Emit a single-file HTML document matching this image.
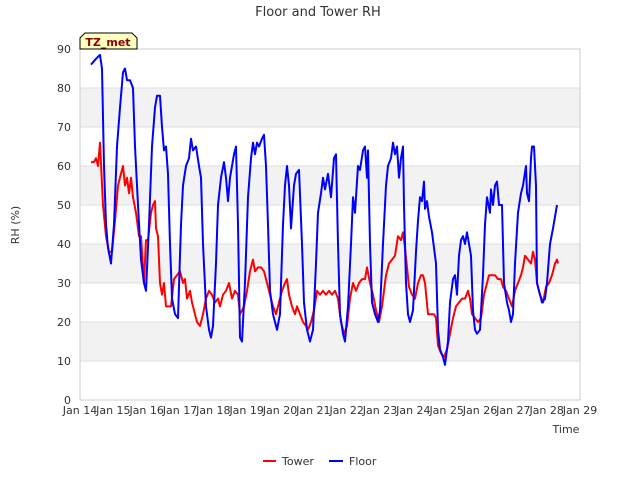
<!DOCTYPE html>
<html><head><meta charset="utf-8"><style>
body{margin:0;background:#fff;font-family:"Liberation Sans","DejaVu Sans",sans-serif}
svg text{font-family:"DejaVu Sans","Liberation Sans",sans-serif}
</style></head><body>
<svg id="c" width="640" height="480" viewBox="0 0 640 480">
<text x="318" y="16" font-size="13" fill="#333" text-anchor="middle">Floor and Tower RH</text>
<g id="bands"></g><g id="grid"></g>
<rect x="80" y="49" width="500" height="351" fill="none" stroke="#ccc"/>
<g id="yt"></g><g id="xt"></g><g id="lines"></g>
<text transform="translate(19,225) rotate(-90)" font-size="11" fill="#333" text-anchor="middle">RH (%)</text>
<text x="566" y="433" font-size="11" fill="#333" text-anchor="middle">Time</text>
<g>
<path d="M80,49 L80,38 L85,33 L132,33 L137,38 L137,49 Z" fill="#ffffc0" stroke="#000"/>
<text x="108" y="46" font-size="11" font-weight="bold" fill="#8b0000" text-anchor="middle">TZ_met</text></g>
<g><line x1="263" y1="461" x2="276" y2="461" stroke="#f00" stroke-width="2"/><text x="282" y="465" font-size="11" fill="#333">Tower</text></g>
<g><line x1="329" y1="461" x2="343" y2="461" stroke="#00f" stroke-width="2"/><text x="349" y="465" font-size="11" fill="#333">Floor</text></g>
</svg>
<script>
const xTickLabels=["Jan 14","Jan 15","Jan 16","Jan 17","Jan 18","Jan 19","Jan 20","Jan 21","Jan 22","Jan 23","Jan 24","Jan 25","Jan 26","Jan 27","Jan 28","Jan 29"];
const yTicks=[0,10,20,30,40,50,60,70,80,90];
const floorT=[.33,.48,.6,.66,.72,.78,.84,.93,1.02,1.11,1.2,1.29,1.35,1.41,1.5,1.59,1.65,1.74,1.83,1.92,1.98,2.07,2.16,2.25,2.31,2.4,2.46,2.52,2.58,2.64,2.7,2.76,2.85,2.94,3.03,3.09,3.18,3.27,3.33,3.39,3.48,3.57,3.63,3.69,3.78,3.87,3.93,3.99,4.08,4.14,4.23,4.32,4.38,4.44,4.5,4.56,4.62,4.68,4.74,4.8,4.86,4.95,5.04,5.13,5.19,5.25,5.31,5.37,5.46,5.52,5.58,5.64,5.7,5.79,5.85,5.91,6.0,6.09,6.15,6.21,6.27,6.33,6.42,6.48,6.57,6.66,6.72,6.81,6.9,6.99,7.08,7.14,7.23,7.29,7.35,7.44,7.53,7.62,7.68,7.74,7.8,7.89,7.95,8.04,8.13,8.19,8.25,8.34,8.4,8.49,8.55,8.61,8.64,8.7,8.76,8.85,8.94,9.0,9.09,9.18,9.24,9.33,9.39,9.45,9.51,9.57,9.63,9.69,9.72,9.78,9.84,9.9,9.99,10.08,10.14,10.2,10.26,10.32,10.35,10.41,10.47,10.56,10.62,10.68,10.74,10.8,10.89,10.95,11.04,11.1,11.19,11.25,11.31,11.37,11.43,11.49,11.55,11.61,11.67,11.73,11.79,11.85,11.91,12.0,12.09,12.15,12.21,12.3,12.33,12.39,12.45,12.51,12.57,12.66,12.72,12.81,12.87,12.93,12.99,13.05,13.14,13.23,13.29,13.38,13.41,13.47,13.53,13.56,13.62,13.68,13.71,13.8,13.86,13.95,14.01,14.1,14.19,14.25,14.31];
const floorV=[86,87.5,88.5,85,60,45,39,35,45,65,75,84,85,82,82,80,65,50,36,30,28,45,65,75,78,78,70,64,65,58,40,26,22,21,45,55,60,62,67,64,65,60,57,40,24,18,16,19,35,50,57,61,57,51,57,60,63,65,45,16,15,30,52,62,66,63,66,65,67,68,60,45,28,22,20,18,22,45,55,60,55,44,55,58,59,40,25,18,15,18,35,48,53,57,54,58,52,62,63,40,22,17,15,24,40,52,48,60,59,64,65,57,64,40,25,22,20,23,40,55,60,62,66,63,65,57,62,65,50,30,22,20,23,38,46,52,51,56,49,51,47,43,39,35,18,13,11,9,15,25,31,32,27,37,41,42,40,43,40,37,23,18,17,18,32,45,52,48,54,50,55,56,50,50,30,25,23,20,22,35,48,53,55,60,53,51,62,65,65,55,30,27,25,26,30,40,44,47,50];
const towerT=[.33,.42,.48,.54,.6,.69,.78,.87,.96,1.05,1.14,1.23,1.29,1.35,1.41,1.47,1.53,1.59,1.68,1.77,1.83,1.92,1.98,2.04,2.13,2.19,2.25,2.28,2.34,2.4,2.46,2.52,2.58,2.64,2.73,2.82,2.91,3.0,3.09,3.15,3.21,3.3,3.36,3.45,3.51,3.6,3.69,3.78,3.87,3.96,4.05,4.14,4.2,4.29,4.38,4.47,4.56,4.65,4.74,4.8,4.86,4.92,5.01,5.1,5.19,5.25,5.34,5.43,5.52,5.61,5.7,5.79,5.88,5.97,6.06,6.15,6.21,6.27,6.36,6.45,6.51,6.6,6.69,6.78,6.84,6.93,7.02,7.11,7.2,7.29,7.38,7.47,7.56,7.65,7.74,7.83,7.92,8.01,8.1,8.19,8.28,8.37,8.46,8.55,8.61,8.7,8.79,8.88,8.97,9.06,9.12,9.18,9.27,9.36,9.45,9.54,9.63,9.69,9.75,9.81,9.87,9.96,10.05,10.14,10.23,10.29,10.35,10.44,10.53,10.62,10.68,10.74,10.83,10.92,11.01,11.1,11.19,11.28,11.37,11.46,11.55,11.64,11.7,11.76,11.85,11.94,12.03,12.12,12.21,12.27,12.36,12.45,12.54,12.63,12.69,12.78,12.87,12.96,13.05,13.14,13.23,13.29,13.35,13.44,13.53,13.59,13.65,13.71,13.8,13.89,13.98,14.07,14.16,14.25,14.31,14.34];
const towerV=[61,61,62,60,66,50,42,38,38,46,55,58,60,55,57,53,57,52,48,42,42,30,41,41,48,50,51,44,42,30,27,30,24,24,24,31,32,33,30,31,26,28,25,22,20,19,22,26,28,27,25,26,24,27,28,30,26,28,27,22,23,24,28,33,36,33,34,34,33,30,27,24,22,25,28,30,31,27,24,22,24,22,20,19,18,20,23,28,27,28,27,28,27,28,26,20,17,19,26,30,28,30,31,31,34,30,27,23,20,24,28,32,35,36,37,42,41,43,39,34,29,27,26,30,32,32,30,22,22,22,21,14,12,11,13,17,21,24,25,26,26,28,26,22,21,20,21,27,30,32,32,32,31,31,29,28,26,24,28,30,32,34,37,36,35,38,36,30,27,25,29,30,32,35,36,35];
const NS="http://www.w3.org/2000/svg";
const X=d=>80+d*500/15, Y=v=>400-v*351/90;
function mk(tag,attrs,parent){const e=document.createElementNS(NS,tag);for(const k in attrs)e.setAttribute(k,attrs[k]);parent.appendChild(e);return e;}
const bands=document.getElementById('bands'),grid=document.getElementById('grid'),yt=document.getElementById('yt'),xt=document.getElementById('xt'),lines=document.getElementById('lines');
for(let v=10;v<90;v+=20){const r=mk('rect',{x:80,y:Y(v+10),width:500,height:Y(v)-Y(v+10),fill:'#f2f2f2'},bands);

}
yTicks.forEach(v=>{const l=mk('line',{x1:80,x2:580,y1:Y(v),y2:Y(v),stroke:'#ddd'},grid);


const t=mk('text',{x:71,y:Y(v)+4,'font-size':11,fill:'#333','text-anchor':'end'},yt);t.textContent=v;

});
xTickLabels.forEach((s,i)=>{const t=mk('text',{x:X(i),y:414,'font-size':11,fill:'#333','text-anchor':'middle'},xt);t.textContent=s;

});
function series(T,V,col,name){const p=mk('polyline',{points:T.map((t,i)=>X(t).toFixed(1)+','+Y(V[i]).toFixed(1)).join(' '),fill:'none',stroke:col,'stroke-width':2,'stroke-linejoin':'round'},lines);

}
series(towerT,towerV,'#f00','tower-line');
series(floorT,floorV,'#00f','floor-line');
</script>
</body></html>
